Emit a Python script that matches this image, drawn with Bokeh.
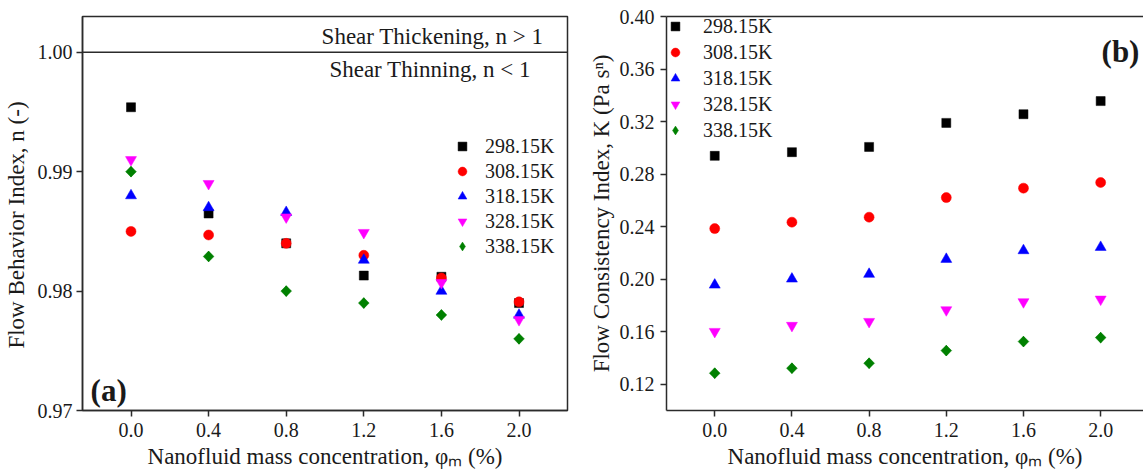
import numpy as np
from bokeh.plotting import figure
from bokeh.layouts import row
from bokeh.models import (Range1d, FixedTicker, PrintfTickFormatter, Legend, LegendItem,
                          Label, Span, LinearAxis, ColumnDataSource)
from bokeh.embed import file_html
from bokeh.resources import INLINE

# ---------------- data ----------------
conc = [0.0, 0.4, 0.8, 1.2, 1.6, 2.0]
temps = ["298.15K", "308.15K", "318.15K", "328.15K", "338.15K"]

n_298 = [0.9954, 0.9865, 0.9840, 0.9813, 0.9812, 0.9790]
n_308 = [0.9850, 0.9847, 0.9840, 0.9830, 0.9811, 0.9791]
n_318 = [0.9880, 0.9870, 0.9866, 0.9826, 0.9800, 0.9780]
n_328 = [0.9910, 0.9890, 0.9862, 0.9849, 0.9807, 0.9776]
n_338 = [0.9900, 0.9829, 0.9800, 0.9790, 0.9780, 0.9760]

K_298 = [0.2939, 0.2967, 0.3007, 0.3190, 0.3256, 0.3356]
K_308 = [0.2385, 0.2434, 0.2472, 0.2621, 0.2693, 0.2736]
K_318 = [0.1956, 0.2002, 0.2038, 0.2152, 0.2218, 0.2243]
K_328 = [0.1601, 0.1647, 0.1677, 0.1766, 0.1827, 0.1847]
K_338 = [0.1284, 0.1322, 0.1360, 0.1456, 0.1525, 0.1555]

x_ticks = [0.0, 0.4, 0.8, 1.2, 1.6, 2.0]
n_ticks = [0.97, 0.98, 0.99, 1.00]
K_ticks = [0.12, 0.16, 0.20, 0.24, 0.28, 0.32, 0.36, 0.40]

n_series = [n_298, n_308, n_318, n_328, n_338]
K_series = [K_298, K_308, K_318, K_328, K_338]

# ---------------- style ----------------
FONT = "Liberation Serif"
LINE = "#2b2b2b"
TXT = "#1a1a1a"
colors = ["#000000", "#ff0000", "#0000ff", "#ff00ff", "#008000"]
markers = ["square", "circle", "triangle", "inverted_triangle", "square"]
legend_markers = ["square", "circle", "triangle", "inverted_triangle", "diamond"]
sizes = [9, 10, 11, 11, 7.6]
angles = [0, 0, 0, 0, np.pi / 4]
NBSP = "\u00a0"


def style_axis(ax, ticks, fmt, standoff=5, label_standoff=5):
    ax.ticker = FixedTicker(ticks=ticks)
    ax.formatter = PrintfTickFormatter(format=fmt)
    ax.axis_line_color = LINE
    ax.axis_line_width = 1.5
    ax.major_tick_line_color = LINE
    ax.major_tick_line_width = 1.5
    ax.major_tick_in = 0
    ax.major_tick_out = 6
    ax.minor_tick_line_color = None
    ax.major_label_text_font = FONT
    ax.major_label_text_font_size = "20px"
    ax.major_label_text_color = TXT
    ax.major_label_standoff = standoff
    ax.axis_label_text_font = FONT
    ax.axis_label_text_font_size = "23px"
    ax.axis_label_text_font_style = "normal"
    ax.axis_label_text_color = TXT
    ax.axis_label_standoff = label_standoff


def add_points(p, series):
    rends = []
    for ys, c, m, s, a, lm in zip(series, colors, markers, sizes, angles, legend_markers):
        src = ColumnDataSource(dict(x=conc, y=ys))
        leg = None
        if lm != m:
            # diamond drawn underneath (fully covered by the rotated square);
            # used for the legend, whose glyphs ignore marker angle
            leg = p.scatter("x", "y", source=src, marker=lm, size=s * 1.4,
                            fill_color=c, line_color=c, line_width=0.5)
        r = p.scatter("x", "y", source=src, marker=m, size=s, angle=a,
                      fill_color=c, line_color=c, line_width=0.5)
        rends.append(leg if leg is not None else r)
    return rends


def make_legend(rends, loc, spacing, standoff):
    items = [LegendItem(label=t, renderers=[r]) for t, r in zip(temps, rends)]
    lg = Legend(items=items, location=loc, padding=0, margin=0, spacing=spacing,
                glyph_width=22, glyph_height=24, label_height=24,
                label_standoff=standoff, label_text_font=FONT,
                label_text_font_size="20px", label_text_color=TXT,
                border_line_color=None, background_fill_color=None,
                background_fill_alpha=0)
    return lg


# ---------------- panel (a) ----------------
p1 = figure(width=585, height=474, x_range=Range1d(-0.25, 2.25),
            y_range=Range1d(0.97, 1.003), output_backend="svg",
            toolbar_location=None, min_border_left=78, min_border_right=18,
            min_border_top=16, min_border_bottom=64)
p1.grid.visible = False
p1.outline_line_color = LINE
p1.outline_line_width = 1.5
p1.background_fill_color = "white"
p1.border_fill_color = "white"
style_axis(p1.xaxis[0], x_ticks, "%.1f", standoff=6, label_standoff=4)
style_axis(p1.yaxis[0], n_ticks, "%.2f", standoff=4, label_standoff=6)
p1.xaxis[0].axis_label = "Nanofluid mass concentration, \u03c6\u2098 (%)"
p1.yaxis[0].axis_label = "Flow Behavior Index, n (-)" + NBSP * 4

p1.add_layout(Span(location=1.0, dimension="width", line_color=LINE, line_width=1.5))
r1 = add_points(p1, n_series)
p1.add_layout(make_legend(r1, (369, 152), 1, 12))

p1.add_layout(Label(x=2.126, y=1.0013, text="Shear Thickening, n > 1", text_font=FONT,
                    text_font_size="23px", text_align="right", text_baseline="middle",
                    text_color=TXT))
p1.add_layout(Label(x=2.061, y=0.99852, text="Shear Thinning, n < 1", text_font=FONT,
                    text_font_size="23px", text_align="right", text_baseline="middle",
                    text_color=TXT))
p1.add_layout(Label(x=-0.115, y=0.9717, text="(a)", text_font=FONT, text_font_size="31px",
                    text_font_style="bold", text_align="center", text_baseline="middle",
                    text_color=TXT))

# ---------------- panel (b) ----------------
p2 = figure(width=558, height=474, x_range=Range1d(-0.25, 2.222),
            y_range=Range1d(0.10, 0.40), output_backend="svg",
            toolbar_location=None, min_border_left=77, min_border_right=0,
            min_border_top=16, min_border_bottom=64)
p2.grid.visible = False
p2.outline_line_color = None
p2.background_fill_color = "white"
p2.border_fill_color = "white"
style_axis(p2.xaxis[0], x_ticks, "%.1f", standoff=6, label_standoff=4)
style_axis(p2.yaxis[0], K_ticks, "%.2f", standoff=6, label_standoff=3)
p2.xaxis[0].axis_label = "Nanofluid mass concentration, \u03c6\u2098 (%)"
p2.yaxis[0].axis_label = "Flow Consistency Index, K (Pa s\u207f)"

top_ax = LinearAxis(ticker=FixedTicker(ticks=[]), major_tick_out=0, major_tick_in=0,
                    major_label_text_font_size="0px", axis_line_color=LINE,
                    axis_line_width=1.5, minor_tick_line_color=None,
                    major_label_standoff=0)
p2.add_layout(top_ax, "above")

r2 = add_points(p2, K_series)
p2.add_layout(make_legend(r2, (-2, 268), 2, 17))
p2.add_layout(Label(x=2.201, y=0.3733, text="(b)", text_font=FONT, text_font_size="31px",
                    text_font_style="bold", text_align="right", text_baseline="middle",
                    text_color=TXT))

layout = row(p1, p2, spacing=0)
open("out.html", "w").write(file_html(layout, INLINE))
